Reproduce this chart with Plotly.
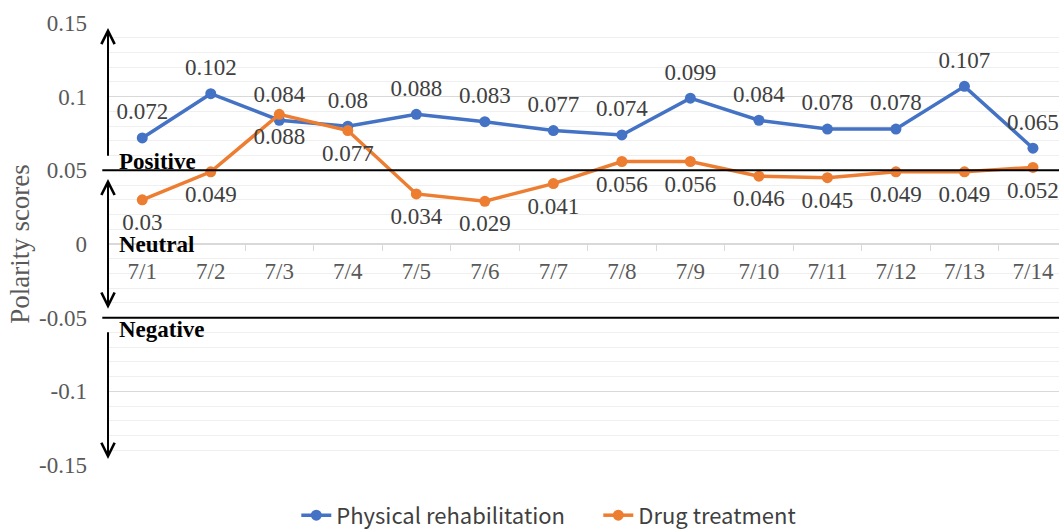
import plotly.graph_objects as go

dates = ["7/1", "7/2", "7/3", "7/4", "7/5", "7/6", "7/7", "7/8", "7/9", "7/10", "7/11", "7/12", "7/13", "7/14"]
physical = [0.072, 0.102, 0.084, 0.08, 0.088, 0.083, 0.077, 0.074, 0.099, 0.084, 0.078, 0.078, 0.107, 0.065]
drug = [0.03, 0.049, 0.088, 0.077, 0.034, 0.029, 0.041, 0.056, 0.056, 0.046, 0.045, 0.049, 0.049, 0.052]
ytick_vals = [0.15, 0.1, 0.05, 0, -0.05, -0.1, -0.15]
ytick_text = ["0.15", "0.1", "0.05", "0", "-0.05", "-0.1", "-0.15"]
zone_labels = ["Positive", "Neutral", "Negative"]

BLUE = "#4472C4"
ORANGE = "#ED7D31"
SERIF = "Liberation Serif, Times New Roman, serif"
SANS = "Noto Sans CJK KR, Noto Sans, sans-serif"
LABEL_FONT = dict(family=SERIF, size=23, color="#404040")

fig = go.Figure()
for name, vals, color, pos in (("Physical rehabilitation", physical, BLUE, "top center"),
                               ("Drug treatment", drug, ORANGE, "bottom center")):
    fig.add_trace(go.Scatter(
        x=dates, y=vals, name=name, mode="lines+markers",
        line=dict(color=color, width=3.5), marker=dict(size=11, color=color),
    ))
    # data labels (transparent larger markers give Excel-like label offset)
    fig.add_trace(go.Scatter(
        x=dates, y=vals, mode="markers+text", showlegend=False, hoverinfo="skip",
        marker=dict(size=19, color="rgba(0,0,0,0)"),
        text=[f"{v:g}" for v in vals], textposition=pos, textfont=LABEL_FONT,
        cliponaxis=False,
    ))

# boundary lines
for yv in (0.05, -0.05):
    fig.add_shape(type="line", xref="paper", yref="y", x0=-0.006, x1=1, y0=yv, y1=yv,
                  line=dict(color="black", width=2), layer="above")

# arrows
arrow_common = dict(xref="paper", yref="y", axref="pixel", ayref="y", x=0, ax=0,
                    showarrow=True, arrowhead=5, arrowsize=1.3, arrowwidth=2,
                    arrowcolor="black", text="")
fig.add_annotation(y=0.1466, ay=0.0588, **arrow_common)
fig.add_annotation(y=-0.0439, ay=0.0452, arrowside="end+start", startarrowhead=5,
                   startarrowsize=1.3, **arrow_common)
fig.add_annotation(y=-0.1459, ay=-0.0588, **arrow_common)

# zone labels
for label, yv, ys in zip(zone_labels, (0.05, 0.0, -0.05), (9, 0, -12)):
    fig.add_annotation(xref="paper", yref="y", x=0.0095, y=yv, yshift=ys, text=f"<b>{label}</b>",
                       showarrow=False, xanchor="left", yanchor="middle",
                       font=dict(family=SERIF, size=23, color="black"))

fig.update_layout(
    width=1059, height=529,
    margin=dict(l=108, r=0, t=23, b=64, autoexpand=False),
    paper_bgcolor="white", plot_bgcolor="white",
    showlegend=True,
    legend=dict(orientation="h", x=0.198, xanchor="left", y=-0.114, yanchor="middle",
                font=dict(family=SANS, size=22, color="#404040"),
                entrywidth=257, entrywidthmode="pixels"),
    xaxis=dict(type="category", range=[-0.5, 13.38], anchor="free", position=0.5,
               automargin=False,
               showline=True, linecolor="#d9d9d9", linewidth=1.5,
               ticks="outside", tickson="boundaries", ticklen=6, tickcolor="#d9d9d9",
               ticklabelstandoff=7, showgrid=False, zeroline=False,
               tickfont=dict(family=SERIF, size=23, color="#595959")),
    yaxis=dict(range=[-0.15, 0.15], tickvals=ytick_vals, ticktext=ytick_text,
               automargin=False,
               showgrid=True, gridcolor="#d9d9d9", gridwidth=1, zeroline=False,
               minor=dict(dtick=0.01, showgrid=True, gridcolor="#efefef", gridwidth=1),
               tickfont=dict(family=SERIF, size=23, color="#595959"), ticks="",
               ticklabelstandoff=20,
               title=dict(text="Polarity scores", standoff=1,
                          font=dict(family=SERIF, size=27, color="#595959"))),
)

fig.write_html("out.html", config={"displayModeBar": False},
               post_script="document.body.style.margin='0';document.body.style.overflow='hidden';")
